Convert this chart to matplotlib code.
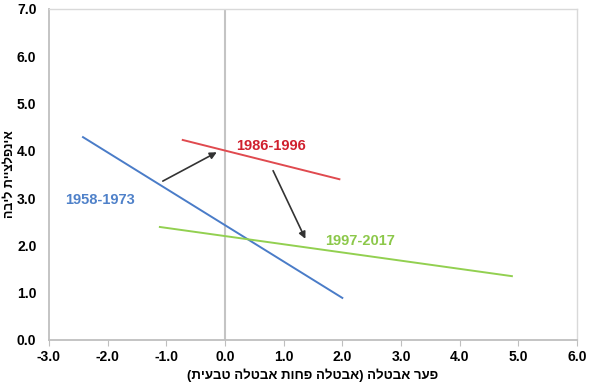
import matplotlib as mpl
import matplotlib.pyplot as plt

mpl.rcParams['font.family'] = ['Liberation Sans', 'DejaVu Sans']
mpl.rcParams['font.weight'] = 'bold'

# segment end points
periods = ['1958-1973', '1986-1996', '1997-2017']
x_start = [-2.42, -0.72, -1.11]
x_end = [2.0, 1.95, 4.89]
y_start = [4.29, 4.23, 2.39]
y_end = [0.89, 3.40, 1.35]
line_colors = ['#4a7cc8', '#e04a4f', '#92d050']
label_colors = ['#4f81c9', '#d0202e', '#8cc84a']
label_x = [-2.13, 0.78, 2.3]
label_y = [2.96, 4.1, 2.1]

# arrows showing the shift between periods
arrow_from = [(-1.06, 3.36), (0.82, 3.58)]
arrow_to = [(-0.14, 3.97), (1.37, 2.14)]

x_ticks = [-3.0, -2.0, -1.0, 0.0, 1.0, 2.0, 3.0, 4.0, 5.0, 6.0]
y_ticks = [0.0, 1.0, 2.0, 3.0, 4.0, 5.0, 6.0, 7.0]

# Hebrew is stored in visual order since matplotlib has no bidi support
x_label = '(תיעבט הלטבא תוחפ הלטבא) הלטבא רעפ'
y_label = 'הביל תייצלפניא'


def main():
    fig = plt.figure(figsize=(5.9, 3.84), dpi=100)
    ax = fig.add_axes([0.083, 0.1146, 0.895, 0.862])

    ax.axvline(0, color='#c4c4c4', lw=1.5, zorder=1)

    for i in range(len(periods)):
        ax.plot([x_start[i], x_end[i]], [y_start[i], y_end[i]],
                color=line_colors[i], lw=1.4, zorder=3)
        ax.text(label_x[i], label_y[i], periods[i], color=label_colors[i],
                fontsize=10.5, fontweight='bold', ha='center', va='center')

    for a, b in zip(arrow_from, arrow_to):
        ax.annotate('', xy=b, xytext=a,
                    arrowprops=dict(arrowstyle='-|>', color='#333333', lw=1.2,
                                    mutation_scale=10, shrinkA=0, shrinkB=0))

    ax.set_xlim(x_ticks[0], x_ticks[-1])
    ax.set_ylim(y_ticks[0], y_ticks[-1])
    ax.set_xticks(x_ticks)
    ax.set_yticks(y_ticks)
    ax.set_xticklabels([f'{v:.1f}' for v in x_ticks])
    ax.set_yticklabels([f'{v:.1f}' for v in y_ticks])
    ax.tick_params(axis='x', length=4, color='#bfbfbf', labelsize=10, pad=3)
    ax.tick_params(axis='y', length=0, labelsize=10, pad=9)

    for side in ['left', 'bottom']:
        ax.spines[side].set_color('#bfbfbf')
        ax.spines[side].set_linewidth(1.3)
    for side in ['top', 'right']:
        ax.spines[side].set_color('#d9d9d9')
        ax.spines[side].set_linewidth(1.0)

    ax.set_xlabel(x_label, fontsize=9.5, fontweight='bold')
    ax.xaxis.set_label_coords(0.5, -0.085)
    ax.set_ylabel(y_label, fontsize=9, fontweight='bold')
    ax.yaxis.set_label_coords(-0.063, 0.5)

    fig.savefig('out.png', dpi=100)


if __name__ == '__main__':
    main()
